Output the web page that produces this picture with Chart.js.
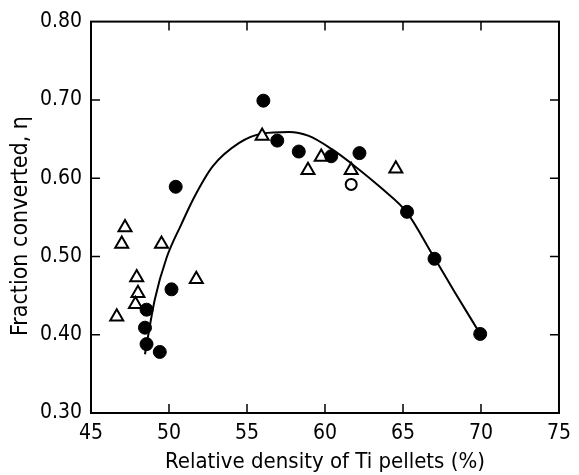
<!DOCTYPE html>
<html>
<head>
<meta charset="utf-8">
<script src="https://cdn.jsdelivr.net/npm/chart.js@4.4.1/dist/chart.umd.min.js"></script>
<style>
html,body{margin:0;padding:0;background:#fff;}
#wrap{width:579px;height:475px;}
</style>
</head>
<body>
<div id="wrap"><canvas id="chart"></canvas></div>
<script>
const xTicks=[45,50,55,60,65,70,75];
const yTicks=[0.30,0.40,0.50,0.60,0.70,0.80];
const xTitle='Relative density of Ti pellets (%)';
const yTitle='Fraction converted, \u03b7';

// filled circles
const solidX=[48.56,48.46,48.56,49.41,50.16,50.43,56.05,56.94,58.32,60.40,62.21,65.26,67.02,69.95];
const solidY=[0.388,0.409,0.432,0.378,0.458,0.589,0.699,0.648,0.634,0.628,0.632,0.557,0.497,0.401];
// open triangles
const triX=[47.18,46.97,49.52,47.93,48.01,47.85,46.65,51.75,55.97,58.91,59.76,61.68,64.54];
const triY=[0.537,0.516,0.516,0.473,0.453,0.439,0.423,0.471,0.654,0.610,0.627,0.610,0.612];
// open circle
const openX=[61.68];
const openY=[0.592];
// fitted curve
const curveX=[48.46,49.09,49.84,50.79,51.60,52.80,54.50,56.00,57.70,58.96,60.44,61.93,63.63,65.26,66.81,68.30,69.95];
const curveY=[0.375,0.445,0.498,0.541,0.575,0.615,0.645,0.657,0.659,0.654,0.637,0.615,0.587,0.556,0.505,0.455,0.401];

const FONT="'DejaVu Sans Condensed','DejaVu Sans',sans-serif";
const pts=(xs,ys)=>xs.map((x,i)=>({x:x,y:ys[i]}));

// box round the plot and inward tick marks, plus the y title
const framePlugin={
  id:'frame',
  afterDraw(chart){
    const {ctx,chartArea:a,scales:{x,y}}=chart;
    const tl=9;
    ctx.save();
    ctx.strokeStyle='#000';
    ctx.lineWidth=2;
    ctx.strokeRect(a.left,a.top,a.right-a.left,a.bottom-a.top);
    ctx.lineWidth=1.5;
    ctx.beginPath();
    xTicks.slice(1,-1).forEach(v=>{
      const px=x.getPixelForValue(v);
      ctx.moveTo(px,a.bottom); ctx.lineTo(px,a.bottom-tl);
      ctx.moveTo(px,a.top); ctx.lineTo(px,a.top+tl);
    });
    yTicks.slice(1,-1).forEach(v=>{
      const py=y.getPixelForValue(v);
      ctx.moveTo(a.left,py); ctx.lineTo(a.left+tl,py);
      ctx.moveTo(a.right,py); ctx.lineTo(a.right-tl,py);
    });
    ctx.stroke();
    ctx.fillStyle='#000';
    ctx.font='23px '+FONT;
    ctx.textAlign='center';
    ctx.textBaseline='middle';
    ctx.translate(21,226);
    ctx.rotate(-Math.PI/2);
    ctx.fillText(yTitle,0,0);
    ctx.restore();
  }
};

new Chart(document.getElementById('chart'),{
  type:'scatter',
  data:{datasets:[
    {data:pts(solidX,solidY),pointStyle:'circle',pointRadius:6.5,backgroundColor:'#000',borderColor:'#000',borderWidth:1},
    {data:pts(openX,openY),pointStyle:'circle',pointRadius:5.5,backgroundColor:'#fff',borderColor:'#000',borderWidth:2},
    {data:pts(triX,triY),pointStyle:'triangle',pointRadius:7.5,backgroundColor:'#fff',borderColor:'#000',borderWidth:2},
    {data:pts(curveX,curveY),showLine:true,pointRadius:0,borderColor:'#000',borderWidth:2,cubicInterpolationMode:'monotone',fill:false}
  ]},
  options:{
    responsive:true,
    maintainAspectRatio:false,
    animation:false,
    layout:{padding:{left:0,right:17,top:21,bottom:0}},
    plugins:{legend:{display:false},tooltip:{enabled:false}},
    scales:{
      x:{
        type:'linear',min:45,max:75,
        afterBuildTicks:s=>{s.ticks=xTicks.map(v=>({value:v}));},
        afterFit:s=>{s.height=62;},
        grid:{display:false,drawTicks:false},
        border:{display:false},
        ticks:{color:'#000',padding:8,font:{family:FONT,size:21}},
        title:{display:true,text:xTitle,color:'#000',padding:{top:0,bottom:0},font:{family:FONT,size:22}}
      },
      y:{
        type:'linear',min:0.3,max:0.8,
        afterBuildTicks:s=>{s.ticks=yTicks.map(v=>({value:v}));},
        afterFit:s=>{s.width=91;},
        grid:{display:false,drawTicks:false},
        border:{display:false},
        ticks:{color:'#000',padding:9,font:{family:FONT,size:21},callback:v=>v.toFixed(2)}
      }
    }
  },
  plugins:[framePlugin]
});
</script>
</body>
</html>
